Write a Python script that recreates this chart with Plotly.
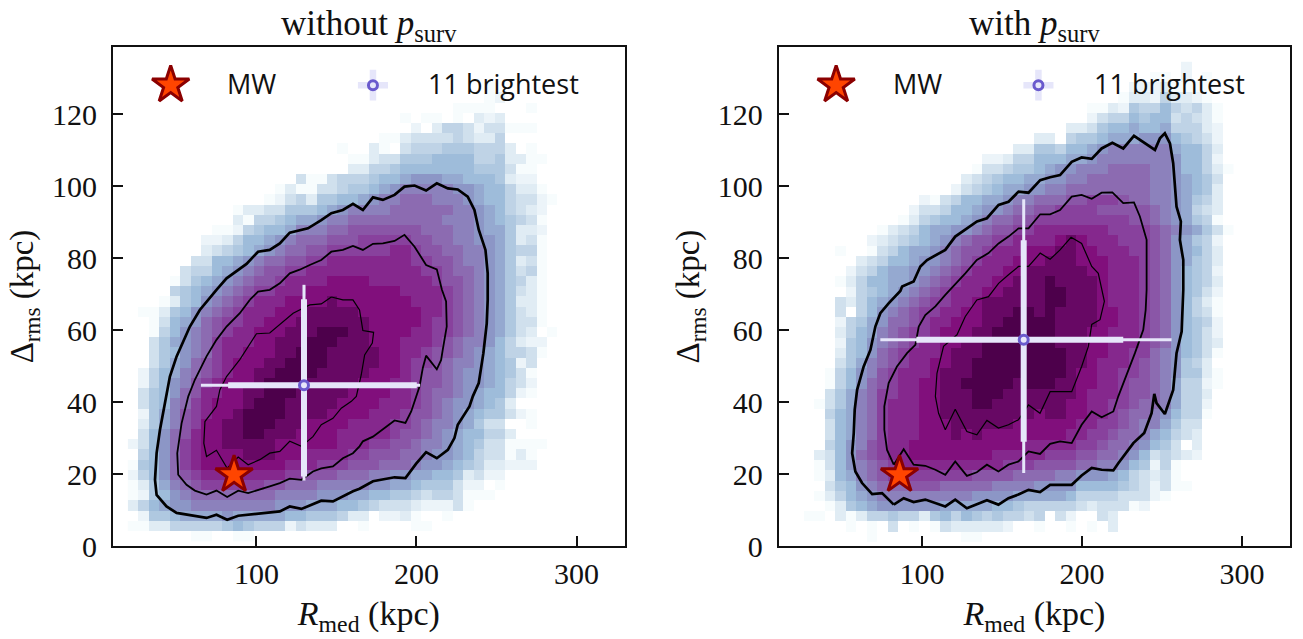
import plotly.graph_objects as go

# Density levels read per cell (0 = blank, 1..17 = position on the BuPu ramp); rows bottom to top
LEFT_LEVELS = [
 [0,0,0,0,0,0,1,1,0,0,1,1],
 [1,1,3,3,5,5,5,5,5,6,7,6,5,5,5,2,4,3,3,3,0,0,1,0,0,0,0,1,1],
 [0,2,6,6,7,8,8,8,8,9,8,8,8,8,8,7,7,6,6,6,5,3,3,0,2,2,3,1,0,0,1],
 [3,5,7,8,9,9,10,10,10,10,10,10,10,10,9,9,9,8,8,8,7,7,6,5,4,4,4,3,2,2,2,4,1],
 [1,2,6,7,9,10,11,11,11,11,11,11,11,11,10,10,10,10,9,9,9,8,8,7,7,6,6,5,4,5,5,4,1,1,1],
 [1,3,6,8,10,11,12,13,13,13,13,13,13,12,12,11,11,11,10,10,10,10,10,9,9,8,8,7,6,6,6,4,2,2,0,1],
 [2,5,7,9,11,12,13,14,14,14,14,14,14,14,14,13,13,12,12,12,11,11,11,10,10,9,9,8,8,7,7,6,3,4,2,2],
 [1,6,7,9,11,13,14,15,15,15,15,15,15,15,15,14,14,14,13,13,13,12,12,12,11,11,11,10,9,9,8,7,6,5,3,3,2,2,2],
 [0,5,7,9,11,13,14,15,15,15,15,16,16,16,15,15,15,14,14,14,14,13,13,12,12,12,11,11,10,9,9,8,7,5,4,4,1,3,1],
 [2,4,7,9,11,13,14,15,15,16,16,16,16,16,15,15,15,15,15,15,14,14,14,13,13,12,12,11,10,10,9,8,7,6,4,4,1,1,1,1],
 [0,4,7,9,11,12,14,15,15,16,16,17,17,16,16,16,15,15,15,15,14,14,14,14,14,13,12,12,11,10,9,8,7,7,5,5,3],
 [0,3,6,8,10,12,13,15,15,16,16,17,17,17,16,16,16,15,15,15,15,14,14,14,14,13,13,12,11,10,10,9,8,6,4,4,0,0,1],
 [0,2,6,8,10,12,13,14,15,15,16,17,17,17,17,16,16,16,16,15,15,15,15,14,14,14,13,12,12,11,10,9,8,7,6,6,4,2,1],
 [0,4,6,7,10,11,13,14,15,15,15,16,17,17,17,16,16,16,16,16,15,15,15,15,14,14,14,13,12,11,10,9,9,8,7,6,3],
 [0,4,6,7,9,11,12,14,14,15,15,16,16,17,17,17,16,16,16,16,16,15,15,15,15,14,14,13,12,11,11,10,9,8,7,7,5,2,1],
 [0,2,5,7,9,10,12,13,14,15,15,15,16,17,17,17,17,16,16,16,16,16,15,15,15,14,14,13,12,12,11,10,9,9,8,7,5,4,2],
 [0,2,5,7,8,10,11,12,13,14,15,15,16,16,17,17,17,17,16,16,16,16,16,15,15,15,14,13,12,12,11,10,9,9,8,7,6,4,1],
 [0,0,4,6,8,9,11,12,13,14,15,15,15,16,16,17,17,17,17,16,16,16,16,16,15,15,14,13,13,12,11,10,10,9,8,7,6,2,4],
 [0,0,4,6,7,9,10,11,13,14,14,15,15,15,16,16,17,17,17,16,16,16,16,16,15,15,14,14,13,12,12,11,10,9,8,7,5,5,4,1],
 [0,0,4,6,8,9,10,11,13,14,14,14,15,15,16,16,16,17,17,17,16,16,16,15,15,15,14,14,14,13,12,11,10,10,9,7,5,3,2,2],
 [0,0,1,5,7,9,10,11,12,13,14,14,15,15,15,16,16,16,17,17,17,16,16,15,15,15,15,14,14,13,13,12,11,10,9,8,6,4,3,0,1],
 [0,0,1,4,7,8,9,11,12,13,13,14,14,15,15,15,16,16,16,16,16,16,16,15,15,15,15,15,14,13,13,12,11,10,9,8,6,4,4,1],
 [0,1,1,3,6,7,9,10,11,12,13,14,14,14,15,15,15,16,16,16,16,16,15,15,15,15,15,15,14,14,13,12,11,10,9,8,6,4,3,1],
 [0,0,0,1,3,6,7,9,10,11,12,13,14,14,14,15,15,15,15,16,15,15,15,15,15,15,15,14,14,14,13,12,11,10,9,8,6,3,3,1],
 [0,0,0,0,5,6,7,8,9,10,11,12,13,13,14,14,14,15,15,15,15,15,15,15,15,15,14,14,14,14,13,12,11,10,9,8,6,4,3,1],
 [0,0,0,0,1,4,6,7,8,9,10,11,12,12,13,14,14,14,14,15,15,15,15,14,14,14,14,14,14,13,12,12,11,10,9,8,6,5,3,1],
 [0,0,0,0,0,4,5,5,7,8,9,10,11,12,12,13,13,14,14,14,14,14,14,14,14,14,14,14,13,13,12,11,11,10,9,8,6,4,5,1],
 [0]*6+[4,4,7,7,8,9,10,11,11,12,12,13,13,14,14,14,14,14,14,14,14,13,13,12,12,11,10,10,9,8,6,3,4,1],
 [0]*7+[3,4,5,6,7,8,9,10,11,11,12,12,13,13,13,13,13,13,14,14,13,12,12,11,11,10,10,9,8,6,5,5,1],
 [0]*7+[2,2,3,5,7,7,8,9,10,11,11,11,12,12,12,13,13,13,13,13,12,12,11,11,10,10,9,9,8,6,3,4,1],
 [0]*8+[1,1,2,5,6,7,7,8,10,10,10,11,11,12,12,12,12,12,12,12,11,11,11,10,10,9,8,8,6,3,3,2],
 [0]*10+[3,1,5,5,6,7,8,8,9,10,10,11,11,11,11,11,11,11,11,11,10,10,10,9,8,7,6,5,4,1],
 [0]*10+[1,3,3,4,4,6,6,6,7,8,9,10,10,10,10,11,11,11,11,11,11,10,10,9,8,7,5,4,3,2],
 [0]*13+[1,2,4,5,3,6,6,7,7,8,9,10,10,11,11,11,10,10,10,9,8,7,7,5,4,4,2,1],
 [0]*14+[1,3,1,1,4,4,5,6,6,7,8,9,10,10,10,10,10,9,9,8,7,7,5,3,3,1],
 [0]*16+[4,1,1,4,5,5,5,6,7,7,8,9,9,9,8,8,7,7,7,6,3,2,2],
 [0]*21+[3,3,5,5,6,7,7,7,7,7,7,7,6,6,6,4,1,1],
 [0]*21+[1,1,3,4,4,6,6,6,7,7,7,7,5,5,6,3,3,1,1],
 [0]*20+[1,0,0,3,1,0,4,5,5,5,6,6,6,5,5,5,3,0,1],
 [0]*24+[1,1,3,4,4,4,4,5,4,3,3,5],
 [0]*27+[2,0,3,5,5,4,2,4,4,1,1,1],
 [0]*26+[1,0,1,1,0,1,0,3,2,3],
 [0]*31+[1,1,1,1,0,0,0,1],
 [0]*34+[1,2],
 [0]*34+[1],
]

RIGHT_LEVELS = [
 [0]*7+[1]+[0]*8+[1,1],
 [0]*5+[1,0,1,0,4,0,1,0,1,4,3,3,3,3,3,2,0,0,1,0,0,1,0,1,0,3],
 [0,1,1,0,3,1,3,5,5,6,5,5,3,6,7,5,7,6,5,6,5,5,4,5,0,4,2,0,0,4,3],
 [0,0,0,1,3,6,7,8,9,9,9,9,9,9,8,8,8,8,8,7,7,6,5,5,5,5,5,4,3,4,4,4,1,2],
 [0,0,1,3,5,7,8,9,10,10,10,10,10,10,10,10,10,9,9,9,9,8,8,8,8,8,7,5,5,5,5,4,4,4,2,1],
 [0,0,0,4,6,7,9,10,11,11,11,12,12,12,11,11,11,11,11,10,10,10,10,9,9,9,9,7,7,7,7,6,5,4,2,4,1,1],
 [0,0,1,3,7,8,10,11,12,13,13,13,13,13,13,13,13,12,12,12,12,11,11,11,11,10,10,9,9,9,8,7,5,4,3,4,1],
 [0,0,1,4,7,9,10,11,12,13,14,14,14,14,14,14,14,14,14,14,13,13,13,12,12,12,12,11,11,10,10,9,7,6,2,5,1],
 [0,0,3,4,7,9,11,12,13,14,14,15,15,15,15,15,15,15,15,14,14,14,14,14,13,13,13,12,12,11,11,10,9,7,4,5,4,3,2],
 [0,0,0,5,7,9,10,12,13,14,14,15,15,15,15,15,15,15,15,15,15,15,14,14,14,14,14,13,13,12,11,11,10,9,7,6,4,0,3],
 [0,0,0,4,7,8,10,11,13,14,14,14,15,15,15,16,15,16,15,15,15,15,15,15,15,15,14,14,13,13,12,11,11,10,8,7,5,4,3],
 [0,0,0,4,7,8,10,11,13,14,14,14,15,15,15,16,16,16,16,16,16,15,15,15,15,15,15,14,14,13,13,12,11,10,10,8,6,4,4],
 [0,0,0,5,7,8,10,11,13,14,14,14,15,15,16,16,16,16,16,16,16,16,16,15,16,16,15,15,14,14,13,12,11,11,10,9,7,5,5,1],
 [0,0,1,4,6,8,10,11,13,14,14,14,15,15,16,16,16,17,17,16,16,16,16,16,16,16,15,15,14,14,13,13,12,11,11,10,8,5,5,2],
 [0,0,0,4,6,8,10,11,13,13,14,14,15,15,16,16,16,17,17,17,16,16,16,16,16,16,16,15,14,14,14,13,12,12,11,10,8,5,5,3],
 [0,0,0,1,5,7,9,11,12,13,14,14,15,15,16,16,17,17,17,17,17,16,17,17,17,16,16,15,15,14,14,13,12,12,11,10,8,5,5,2,1],
 [0,0,0,1,5,7,9,10,12,13,14,14,14,15,16,16,16,17,17,17,17,17,17,17,17,17,16,15,15,14,14,13,13,12,11,10,9,6,6,3,1],
 [0,0,0,0,4,6,8,10,11,12,13,14,14,15,15,16,16,17,17,17,17,17,17,17,17,17,16,16,15,14,14,14,13,12,11,10,9,6,5,3],
 [0,0,0,0,3,6,7,9,11,12,13,14,14,14,15,16,16,16,17,17,17,17,17,17,17,17,16,16,15,15,14,14,13,13,11,10,9,7,6,4,1],
 [0,0,0,0,2,6,7,9,10,11,12,13,14,14,15,15,16,16,17,17,17,17,17,17,17,16,16,16,15,15,14,14,14,13,12,11,9,7,6,4,3],
 [0,0,0,0,3,5,7,8,10,11,12,13,13,14,15,15,15,16,16,17,17,17,17,17,17,16,16,16,15,15,14,14,14,13,12,11,9,7,6,4,2],
 [0,0,0,0,2,5,6,8,9,11,11,12,13,14,14,15,15,15,16,16,17,17,17,17,17,16,16,16,16,15,15,14,14,13,12,11,9,7,6,5,2],
 [0,0,0,0,4,0,5,7,9,10,11,12,13,13,14,14,15,15,16,16,16,17,17,16,17,16,16,16,16,15,15,14,14,13,12,11,9,7,5,4,1],
 [0,0,0,0,4,3,5,7,8,9,10,11,12,13,13,14,14,15,16,16,16,16,16,16,17,17,16,16,16,15,14,14,14,13,12,11,9,7,5,3,1],
 [0,0,0,0,0,2,5,6,7,8,9,10,11,12,13,14,14,14,15,15,16,16,16,16,17,17,16,16,16,15,14,14,14,13,12,11,9,7,6,4,2],
 [0,0,0,0,1,3,5,7,7,8,8,9,10,11,12,13,14,14,14,15,15,16,16,16,17,16,16,16,16,15,14,14,14,13,12,11,9,7,6,5,3],
 [0,0,0,0,0,2,4,5,7,8,8,9,9,10,11,12,13,14,14,14,15,15,16,16,16,16,16,16,15,15,14,14,14,13,12,11,9,7,6,5,2],
 [0]*6+[3,4,5,7,7,8,9,9,10,11,12,13,14,14,14,15,15,15,16,16,16,15,15,15,14,14,14,13,12,11,9,8,6,5,3],
 [0,0,0,0,1,0,0,1,4,5,7,8,8,9,10,11,12,12,13,14,14,14,15,15,15,16,16,15,15,14,14,14,13,13,12,11,9,8,7,5,3],
 [0]*7+[2,3,4,5,6,7,8,9,10,11,12,12,13,13,14,14,14,14,15,16,15,14,14,14,13,13,13,12,11,9,8,6,5,2],
 [0]*8+[1,3,4,5,7,8,8,9,9,10,11,12,12,13,13,14,14,14,14,14,14,14,13,13,13,13,12,11,10,9,8,6,4,1],
 [0]*10+[1,3,5,6,7,7,8,9,10,11,11,12,12,13,13,13,13,13,13,13,13,13,12,12,11,10,9,8,6,5,1],
 [0]*11+[2,4,4,5,7,7,8,9,9,10,11,11,12,12,13,13,13,13,12,12,12,12,12,11,10,9,8,5,4,3],
 [0]*12+[2,1,4,5,7,7,8,8,9,10,10,11,11,11,12,12,13,13,13,12,11,11,10,10,9,8,6,5,3],
 [0]*15+[2,4,5,6,7,8,8,9,9,10,10,11,11,11,11,11,11,11,11,10,10,9,8,7,6,3],
 [0]*16+[3,4,5,6,7,7,8,8,9,9,10,10,11,11,11,11,11,11,10,10,9,8,7,6,4],
 [0]*17+[1,4,4,5,6,6,7,8,9,9,10,10,10,11,11,11,11,10,10,9,7,7,5,3,1],
 [0]*18+[2,2,3,5,5,7,7,7,8,8,9,10,10,10,10,10,10,10,9,7,7,5,2],
 [0]*21+[3,3,6,6,5,7,7,8,9,10,10,10,10,10,10,8,7,7,5,3],
 [0]*23+[3,3,0,5,6,6,7,8,8,8,9,9,9,7,6,5,4,2],
 [0]*26+[3,3,4,6,7,7,8,7,7,8,5,5,5,3,2],
 [0]*28+[2,4,5,5,7,6,7,7,4,5,4,3,1],
 [0]*28+[1,1,3,2,6,5,5,7,5,4,5,3,1],
 [0]*31+[1,3,3,2,5,3,3,2,1],
 [0]*32+[2,2,2,3,1,1,1,1],
 [0]*34+[1,1,0,2,0,1],
 [0]*37+[2],
]

# Contours: (R_med, Delta_rms)
L_OUTER_X = [75.0,81.3,93.8,101.0,108.3,114.6,120.8,132.2,140.5,146.8,154.0,160.3,166.5,172.8,179.0,186.3,192.5,198.8,206.0,212.7,219.6,225.8,232.0,236.2,238.9,243.1,244.5,244.5,244.5,243.9,241.8,238.9,235.2,233.1,225.8,223.7,219.6,212.7,206.0,199.8,193.1,186.3,172.8,164.4,160.3,147.8,140.5,128.1,120.8,114.6,101.0,88.6,81.7,75.0,68.8,50.1,43.8,37.6,36.6,37.6,39.7,42.8,45.9,50.1,58.4,64.6,69.8,75.0]
L_OUTER_Y = [71.2,74.4,78.4,81.8,82.3,84.1,87.1,88.3,90.6,92.5,93.4,95.1,93.4,96.9,96.2,97.6,99.9,100.2,98.8,100.8,99.4,99.1,97.1,93.4,87.9,82.3,75.8,71.2,68.4,61.9,53.6,45.3,41.6,38.8,33.7,30.0,26.7,24.4,26.1,22.9,18.9,19.1,18.0,15.9,15.2,12.4,12.6,10.3,11.0,9.6,9.0,8.4,7.3,8.7,7.8,9.2,11.0,14.2,18.4,25.8,32.3,39.7,47.1,52.7,61.0,65.6,68.4,71.2]
L_MID_X = [95.8,101.0,108.3,114.6,120.8,127.0,133.3,140.5,146.8,154.0,160.3,166.5,172.8,179.0,186.3,192.5,198.8,206.0,212.7,215.4,215.9,218.5,218.9,216.4,215.4,212.7,206.0,203.9,201.9,196.7,193.1,186.3,176.9,172.8,166.5,164.4,160.3,154.0,147.8,140.5,135.3,128.1,120.8,114.6,108.3,94.8,88.6,81.7,75.0,68.8,61.5,56.3,51.1,50.5,53.2,57.4,61.5,68.8,75.0,81.3,89.6,95.8]
L_MID_Y = [68.4,70.7,71.2,73.0,75.8,76.8,78.1,79.5,81.8,82.3,83.4,82.3,84.0,84.1,84.8,86.5,83.2,78.1,76.9,72.6,71.2,68.0,61.0,54.5,51.7,49.1,52.9,49.4,44.3,37.4,34.2,34.9,31.8,30.4,29.1,27.7,25.8,24.4,22.1,21.6,20.7,18.4,18.7,17.5,16.6,14.7,15.4,13.6,15.4,14.3,15.4,17.0,19.8,25.8,34.1,41.6,46.2,52.7,57.3,61.0,64.7,68.4]
L_IN_X = [146.8,154.0,160.3,164.4,166.5,173.2,172.4,167.6,165.5,162.4,159.3,153.0,147.8,140.5,135.3,128.1,120.8,114.6,108.3,102.1,94.8,88.6,81.7,75.0,68.8,67.1,67.8,75.0,77.1,81.3,89.6,100.0,108.3,115.6,122.9,133.3,140.5,146.8]
L_IN_Y = [69.2,68.4,68.4,65.6,59.9,59.4,56.4,53.1,47.6,41.6,40.2,38.3,35.5,33.7,30.4,27.7,29.1,26.3,25.8,24.0,22.6,24.7,21.6,26.6,24.9,28.6,34.6,38.8,43.4,47.1,51.8,59.0,59.2,61.9,64.7,67.0,67.3,69.2]

R_OUTER_X = [82.4,75.1,68.9,62.6,58.4,56.4,57.4,58.0,59.5,63.6,67.8,70.9,74.0,79.3,86.5,87.6,94.8,99.0,103.2,114.6,120.8,127.1,134.4,140.6,147.9,154.1,160.4,166.6,173.9,180.1,186.3,193.6,199.8,206.1,212.3,219.0,225.8,232.5,238.9,245.6,248.7,251.8,255.0,257.0,259.1,261.8,261.2,263.3,263.3,262.3,259.1,257.0,251.8,246.6,245.2,243.5,238.9,232.1,222.7,219.6,212.3,206.1,199.8,193.6,180.1,173.8,166.6,160.3,154.1,147.8,140.6,134.3,128.1,120.8,114.6,102.1,94.8,88.6,82.4]
R_OUTER_Y = [11.5,14.7,14.4,17.5,20.7,25.8,31.4,37.9,43.4,49.9,54.5,61.0,64.7,67.5,70.9,72.1,73.5,77.7,79.5,82.3,86.0,87.9,90.2,91.1,94.8,95.7,98.5,98.2,101.7,102.5,103.1,106.8,108.0,107.6,110.5,112.1,110.5,114.0,112.1,110.1,113.3,114.7,111.9,106.4,94.3,90.2,85.1,79.5,71.2,59.6,53.6,43.4,36.7,39.7,42.3,36.9,31.4,28.6,23.0,21.0,21.2,21.7,19.6,17.0,17.0,15.0,15.6,14.3,13.3,11.5,12.7,11.5,10.5,12.9,11.0,12.9,12.2,13.3,11.5]
R_MID_X = [82.4,78.2,76.5,76.5,79.2,84.4,90.7,95.9,98.0,102.1,108.4,114.6,127.1,134.3,141.6,147.9,154.1,160.4,166.6,173.9,180.1,186.3,193.6,199.8,206.1,212.3,219.0,225.8,232.5,236.2,240.4,240.4,240.4,239.8,238.3,233.1,226.9,222.7,219.6,212.3,206.1,199.8,193.6,186.3,180.1,173.8,166.6,160.3,154.1,147.8,140.6,134.3,128.1,120.8,114.6,108.4,102.1,94.8,88.6,82.4]
R_MID_Y = [22.6,26.7,32.3,38.8,45.3,49.9,53.6,55.9,61.0,64.2,66.6,69.8,75.8,79.5,81.4,84.1,86.0,88.3,88.3,92.2,92.2,93.4,97.1,97.6,96.5,98.2,98.3,95.3,95.5,91.6,85.1,76.7,71.2,65.6,60.1,53.6,46.7,41.6,37.4,35.8,37.4,33.7,28.6,29.1,28.4,25.6,26.3,23.5,22.6,20.7,22.6,20.5,19.5,23.5,19.8,21.2,22.3,22.6,26.9,22.6]
R_IN_X = [114.6,110.4,108.4,109.4,113.5,121.9,127.1,134.3,141.6,147.9,154.1,160.4,166.6,173.9,180.1,186.3,193.2,199.8,206.1,210.2,214.0,211.3,206.1,204.0,199.8,193.6,180.1,175.9,173.8,166.6,160.3,154.1,147.8,140.6,134.3,128.1,120.8,114.6]
R_IN_Y = [32.3,36.9,41.6,48.0,55.5,58.7,63.8,68.4,69.3,73.0,75.4,77.7,77.7,81.4,79.7,82.3,85.8,84.1,77.7,75.8,68.0,62.9,61.6,55.5,49.9,42.9,42.9,39.2,36.9,39.2,35.1,33.7,32.8,34.9,30.9,31.8,38.0,32.3]

# Summary points: centre, thick-bar limits, thin-bar limits
L_CENTER = (129.7, 44.7)
L_THICK_X = (82.3, 200.2)
L_THIN_X = (65.3, 202.3)
L_THICK_Y = (19.3, 68.6)
L_THIN_Y = (18.2, 72.6)
R_CENTER = (163.6, 57.3)
R_THICK_X = (96.5, 225.8)
R_THIN_X = (74.0, 256.0)
R_THICK_Y = (29.0, 85.0)
R_THIN_Y = (20.3, 96.4)
MW = (86.0, 19.8)

TITLES = ["without <i>p</i><sub>surv</sub>", "with <i>p</i><sub>surv</sub>"]
X_LABEL = "<i>R</i><sub>med</sub> (kpc)"
Y_LABEL = "Δ<sub>rms</sub> (kpc)"
X_TICKS = [100, 200, 300]
Y_TICKS = [0, 20, 40, 60, 80, 100, 120]
LEGEND_LABELS = ["MW", "11 brightest"]
LEGEND_Y = 128.1
LEGEND_TEXT_Y = 128.6
LEGEND_STAR_X = 46.4
LEGEND_CROSS_X = 172.8
LEGEND_MW_TEXT_X = 80.5
LEGEND_BRIGHT_TEXT_X = 206.0

SERIF = "Liberation Serif"
SANS = "Open Sans"
W, H = 1303, 639
LAV = "#e6e6fa"
SLATE = "#6a5acd"

NCOL = 42
def grid(rows):
    return [[(v if v > 0 else None) for v in (r + [0] * (NCOL - len(r)))] for r in rows]

fig = go.Figure()

def panel(n, levels, contours, center, thin_x, thick_x, thin_y, thick_y):
    xa, ya = ("x", "y") if n == 1 else ("x2", "y2")
    fig.add_trace(go.Heatmap(z=grid(levels), x0=22.97, dx=6.54, y0=2.70, dy=2.836,
                             colorscale="BuPu", zmin=1, zmax=17, showscale=False,
                             hoverinfo="skip", xaxis=xa, yaxis=ya))
    for (cx, cy), lw in zip(contours, (2.7, 1.8, 1.2)):
        fig.add_trace(go.Scatter(x=cx, y=cy, mode="lines", line=dict(color="black", width=lw),
                                 showlegend=False, hoverinfo="skip", xaxis=xa, yaxis=ya))
    cxv, cyv = center
    for bx, by, th in ((thin_x, thin_y, 3), (thick_x, thick_y, 6)):
        fig.add_trace(go.Scatter(
            x=[cxv], y=[cyv], mode="markers", marker=dict(size=1, color=LAV),
            error_x=dict(type="data", symmetric=False, array=[bx[1] - cxv], arrayminus=[cxv - bx[0]],
                         color=LAV, thickness=th, width=0),
            error_y=dict(type="data", symmetric=False, array=[by[1] - cyv], arrayminus=[cyv - by[0]],
                         color=LAV, thickness=th, width=0),
            showlegend=False, hoverinfo="skip", xaxis=xa, yaxis=ya))
    fig.add_trace(go.Scatter(x=[cxv], y=[cyv], mode="markers",
                             marker=dict(size=9, color=LAV, line=dict(color=SLATE, width=3)),
                             showlegend=False, hoverinfo="skip", xaxis=xa, yaxis=ya))
    fig.add_trace(go.Scatter(x=[MW[0]], y=[MW[1]], mode="markers",
                             marker=dict(symbol="star", size=28, color="#ff4500",
                                         line=dict(color="#8b0000", width=3)),
                             showlegend=False, hoverinfo="skip", xaxis=xa, yaxis=ya))
    # legend keys
    fig.add_trace(go.Scatter(x=[LEGEND_STAR_X], y=[LEGEND_Y], mode="markers",
                             marker=dict(symbol="star", size=28, color="#ff4500",
                                         line=dict(color="#8b0000", width=3)),
                             showlegend=False, hoverinfo="skip", xaxis=xa, yaxis=ya))
    fig.add_trace(go.Scatter(x=[LEGEND_CROSS_X], y=[LEGEND_Y], mode="markers",
                             marker=dict(size=9, color=LAV, line=dict(color=SLATE, width=3)),
                             error_x=dict(type="constant", value=9.4, color=LAV, thickness=6.5, width=0),
                             error_y=dict(type="constant", value=4.3, color=LAV, thickness=6.5, width=0),
                             showlegend=False, hoverinfo="skip", xaxis=xa, yaxis=ya))
    for tx, label in ((LEGEND_MW_TEXT_X, LEGEND_LABELS[0]), (LEGEND_BRIGHT_TEXT_X, LEGEND_LABELS[1])):
        fig.add_annotation(x=tx, y=LEGEND_TEXT_Y, xref=xa, yref=ya, text=label, showarrow=False,
                           xanchor="left", yanchor="middle", font=dict(family=SANS, size=27, color="#111"))
    fig.add_annotation(xref=f"{xa} domain", yref=f"{ya} domain", x=0.5, y=1, yanchor="bottom", yshift=-2,
                       text=TITLES[n - 1], showarrow=False, font=dict(family=SERIF, size=35, color="#111"))

panel(1, LEFT_LEVELS, [(L_OUTER_X, L_OUTER_Y), (L_MID_X, L_MID_Y), (L_IN_X, L_IN_Y)],
      L_CENTER, L_THIN_X, L_THICK_X, L_THIN_Y, L_THICK_Y)
panel(2, RIGHT_LEVELS, [(R_OUTER_X, R_OUTER_Y), (R_MID_X, R_MID_Y), (R_IN_X, R_IN_Y)],
      R_CENTER, R_THIN_X, R_THICK_X, R_THIN_Y, R_THICK_Y)

xcommon = dict(tickvals=X_TICKS, ticks="inside", ticklen=10, tickwidth=2,
               tickcolor="#111", showline=True, linecolor="#111", linewidth=2, mirror=True,
               showgrid=False, zeroline=False, tickfont=dict(family=SERIF, size=30, color="#111"),
               title=dict(text=X_LABEL, font=dict(family=SERIF, size=34, color="#111"), standoff=12))
ycommon = dict(range=[0, 138.7], tickvals=Y_TICKS, ticks="inside", ticklen=10, tickwidth=2,
               tickcolor="#111", showline=True, linecolor="#111", linewidth=2, mirror=True,
               showgrid=False, zeroline=False, ticklabelstandoff=8,
               tickfont=dict(family=SERIF, size=30, color="#111"),
               title=dict(text=Y_LABEL, font=dict(family=SERIF, size=33, color="#111"), standoff=8))
ML, MR, MT, MB = 113, 11, 47, 93
PW = W - ML - MR
fig.update_layout(
    width=W, height=H, autosize=False, margin=dict(l=ML, r=MR, t=MT, b=MB),
    paper_bgcolor="white", plot_bgcolor="white", showlegend=False,
    xaxis=dict(domain=[0, 512.5 / PW], range=[10.35, 330.07], anchor="y", **xcommon),
    yaxis=dict(domain=[0, 1], anchor="x", **ycommon),
    xaxis2=dict(domain=[667 / PW, 1], range=[10.6, 330.0], anchor="y2", **xcommon),
    yaxis2=dict(domain=[0, 1], anchor="x2", **ycommon),
)
fig.write_html("out.html", config={"displayModeBar": False},
               post_script="document.body.style.margin='0';document.body.style.overflow='hidden';")
